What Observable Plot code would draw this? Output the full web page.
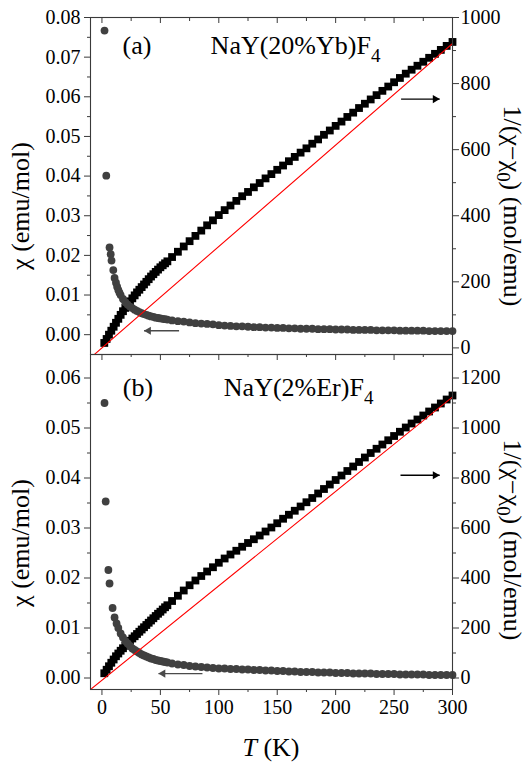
<!DOCTYPE html>
<html><head><meta charset="utf-8">
<script src="https://cdn.jsdelivr.net/npm/d3@7"></script>
<script src="https://cdn.jsdelivr.net/npm/@observablehq/plot@0.6"></script>
<style>
body{margin:0;background:#fff;}
#wrap{position:relative;width:530px;height:764px;overflow:hidden;background:#fff;font-family:"Liberation Serif","Times New Roman",Times,serif;}
#wrap svg{position:absolute;left:0;overflow:visible;}
#wrap svg text{font-family:"Liberation Serif","Times New Roman",Times,serif !important;}
</style></head><body><div id="wrap"></div>
<script>
// ---------- shared temperature grids / ticks ----------
const tDomain = [-9.8, 300];
const tMajor = [0, 50, 100, 150, 200, 250, 300];
const tMinor = [25, 75, 125, 175, 225, 275];
const tHigh = [60, 65, 70, 75, 80, 85, 90, 95, 100, 105, 110, 115, 120, 125, 130, 135, 140, 145, 150, 155, 160, 165, 170, 175, 180, 185, 190, 195, 200, 205, 210, 215, 220, 225, 230, 235, 240, 245, 250, 255, 260, 265, 270, 275, 280, 285, 290, 295, 300];
const tLowSq = [2, 4, 6, 8, 10, 12, 14, 16, 18, 20, 22, 24, 26, 28, 30, 32, 34, 36, 38, 40, 42, 44, 46, 48, 50, 52, 54, 56];

// ---------- panel (a): NaY(20%Yb)F4 ----------
const chiDomainA = [-0.005, 0.08];
const invDomainA = [-20, 1000];
const chiMajorA = [0, 0.01, 0.02, 0.03, 0.04, 0.05, 0.06, 0.07, 0.08];
const chiMinorA = [0.005, 0.015, 0.025, 0.035, 0.045, 0.055, 0.065, 0.075];
const invMajorA = [0, 200, 400, 600, 800, 1000];
const invMinorA = [100, 300, 500, 700, 900];
const chiLowTA = [2.2, 3.7, 6.5, 7.5, 8.2, 9.7, 10.8, 12, 13, 14, 15, 16, 18, 20, 22, 24, 26, 28, 30, 32, 34, 36, 38, 40, 42, 44, 46, 48, 50, 52, 54, 56];
const chiLowA = [0.0767, 0.0401, 0.0220, 0.0203, 0.0187, 0.0163, 0.0143, 0.0131, 0.0121, 0.0113, 0.0106, 0.0100, 0.0090, 0.0082, 0.0076, 0.0071, 0.0067, 0.0063, 0.0060, 0.0057, 0.0054, 0.0052, 0.0050, 0.0048, 0.0046, 0.0045, 0.0043, 0.0042, 0.0041, 0.0040, 0.0039, 0.0038];
const chiHighA = [0.0036, 0.0034, 0.0033, 0.0031, 0.0029, 0.0028, 0.0027, 0.0026, 0.0024, 0.0023, 0.0022, 0.0021, 0.0021, 0.0020, 0.0019, 0.0019, 0.0018, 0.0018, 0.0017, 0.0017, 0.0016, 0.0016, 0.0015, 0.0015, 0.0015, 0.0014, 0.0014, 0.0014, 0.0013, 0.0013, 0.0013, 0.0012, 0.0012, 0.0012, 0.0012, 0.0011, 0.0011, 0.0011, 0.0011, 0.0010, 0.0010, 0.0010, 0.0010, 0.0010, 0.0009, 0.0009, 0.0009, 0.0009, 0.0009];
const invLowA = [15, 27, 40, 52, 64, 76, 88, 100, 111, 121, 131, 141, 150, 159, 168, 176, 184, 192, 200, 208, 216, 223, 230, 237, 244, 250, 256, 262];
const invHighA = [275, 291, 307, 323, 339, 355, 371, 386, 402, 417, 431, 445, 459, 472, 486, 499, 513, 526, 539, 552, 565, 578, 591, 604, 618, 631, 645, 658, 672, 685, 699, 712, 726, 739, 752, 765, 778, 791, 804, 817, 830, 842, 854, 866, 878, 890, 902, 914, 926];
const fitTA = [-6.5, 300];
const fitA = [-20, 921];
const arrowRightA = [256, 289, 753];     // T from, T to, 1/(χ-χ0) level
const arrowLeftA = [66, 36, 0.0010];     // T from, T to, χ level
const labelTextA = ["(a)", "NaY(20%Yb)F_4"];
const labelTA = [17.6, 93];
const labelChiA = [0.0709, 0.0709];

// ---------- panel (b): NaY(2%Er)F4 ----------
const chiDomainB = [-0.0023, 0.0647];
const invDomainB = [-46, 1294];
const chiMajorB = [0, 0.01, 0.02, 0.03, 0.04, 0.05, 0.06];
const chiMinorB = [0.005, 0.015, 0.025, 0.035, 0.045, 0.055];
const invMajorB = [0, 200, 400, 600, 800, 1000, 1200];
const invMinorB = [100, 300, 500, 700, 900, 1100];
const chiLowTB = [2.2, 3.2, 5.5, 6.5, 9.1, 10.8, 12.5, 14, 16, 18, 20, 22, 24, 26, 28, 30, 32, 34, 36, 38, 40, 42, 44, 46, 48, 50, 52, 54, 56];
const chiLowB = [0.0550, 0.0353, 0.0216, 0.0189, 0.0140, 0.0121, 0.0109, 0.0100, 0.0089, 0.0081, 0.0074, 0.0069, 0.0064, 0.0059, 0.0056, 0.0053, 0.0050, 0.0047, 0.0045, 0.0043, 0.0041, 0.0039, 0.0038, 0.0036, 0.0035, 0.0034, 0.0033, 0.0032, 0.0031];
const chiHighB = [0.0029, 0.0027, 0.0026, 0.0024, 0.0023, 0.0022, 0.0021, 0.0020, 0.0019, 0.0019, 0.0018, 0.0018, 0.0017, 0.0017, 0.0016, 0.0016, 0.0015, 0.0015, 0.0014, 0.0014, 0.0013, 0.0013, 0.0012, 0.0012, 0.0012, 0.0011, 0.0011, 0.0011, 0.0010, 0.0010, 0.0010, 0.0009, 0.0009, 0.0009, 0.0009, 0.0008, 0.0008, 0.0008, 0.0008, 0.0007, 0.0007, 0.0007, 0.0007, 0.0007, 0.0006, 0.0006, 0.0006, 0.0006, 0.0006];
const invLowB = [19, 33, 47, 61, 74, 87, 98, 109, 119, 129, 139, 149, 158, 167, 176, 185, 194, 203, 212, 221, 230, 239, 248, 257, 265, 274, 283, 291];
const invHighB = [308, 329, 350, 371, 390, 408, 426, 443, 461, 478, 494, 509, 525, 540, 555, 570, 586, 602, 619, 637, 653, 669, 686, 703, 720, 738, 756, 774, 792, 810, 828, 846, 864, 882, 900, 917, 934, 951, 968, 985, 1002, 1018, 1034, 1050, 1066, 1082, 1098, 1114, 1130];
const fitTB = [-9.8, 300];
const fitB = [-46, 1124];
const arrowRightB = [255.5, 289, 811];
const arrowLeftB = [86, 48.4, 0.00088];
const labelTextB = ["(b)", "NaY(2%Er)F_4"];
const labelTB = [17.9, 104.3];
const labelChiB = [0.0565, 0.0565];

// ---------- drawing ----------
const FONT = '"Liberation Serif","Times New Roman",Times,serif';
const AX = "#3a3a3a";
const SVGNS = "http://www.w3.org/2000/svg";

function makePanel(p) {
  const [y0, y1] = p.chiDomain, [r0, r1] = p.invDomain;
  const r2y = r => y0 + (r - r0) * (y1 - y0) / (r1 - r0);
  const y2r = y => r0 + (y - y0) * (r1 - r0) / (y1 - y0);
  const innerH = p.height - p.marginTop - p.marginBottom;
  const chiT = p.chiLowT.concat(tHigh), chiV = p.chiLow.concat(p.chiHigh);
  const invT = tLowSq.concat(tHigh), invV = p.invLow.concat(p.invHigh);
  const chiData = chiT.map((t, i) => ({t, v: chiV[i]}));
  const invData = invT.map((t, i) => ({t, v: r2y(invV[i])}));
  const fitData = p.fitT.map((t, i) => ({t, v: r2y(p.fit[i])}));
  const aR = [{x1: p.arrowRight[0], x2: p.arrowRight[1], y: r2y(p.arrowRight[2])}];
  const aL = [{x1: p.arrowLeft[0], x2: p.arrowLeft[1], y: p.arrowLeft[2]}];
  const labels = p.labelText.map((s, i) => ({s, t: p.labelT[i], v: p.labelChi[i]}));
  const marks = [
    Plot.dot(invData, {x: "t", y: "v", symbol: "square", r: 4.4, fill: "#000"}),
    Plot.dot(chiData, {x: "t", y: "v", r: 3.9, fill: "#404040"}),
    Plot.line(fitData, {x: "t", y: "v", stroke: "#ff0000", strokeWidth: 1.1, clip: true}),
    Plot.link(aR, {x1: "x1", x2: "x2", y1: "y", y2: "y", stroke: "#000", strokeWidth: 1.4}),
    Plot.dot(aR, {x: "x2", y: "y", symbol: "triangle", r: 3, rotate: 90, fill: "#000", dx: -4.5}),
    Plot.link(aL, {x1: "x1", x2: "x2", y1: "y", y2: "y", stroke: "#4a4a4a", strokeWidth: 1.4}),
    Plot.dot(aL, {x: "x2", y: "y", symbol: "triangle", r: 3, rotate: -90, fill: "#4a4a4a", dx: 4.5}),
    Plot.text(labels, {x: "t", y: "v", text: "s", textAnchor: "start", lineAnchor: "bottom", fontSize: 26, fill: "#000"}),
    Plot.frame({stroke: AX, strokeWidth: 1.1}),
    Plot.axisY(p.chiMajor, {anchor: "left", tickSize: 6, tickPadding: 4, tickFormat: d3.format(".2f"), fontSize: 20, label: null, stroke: AX, fill: "#000"}),
    Plot.axisY(p.chiMinor, {anchor: "left", tickSize: 3, tickFormat: () => "", label: null, stroke: AX}),
    Plot.axisY(p.invMajor.map(r2y), {anchor: "right", tickSize: 6, tickPadding: 2, tickFormat: d => String(Math.round(y2r(d))), fontSize: 20, label: null, stroke: AX, fill: "#000"}),
    Plot.axisY(p.invMinor.map(r2y), {anchor: "right", tickSize: 3, tickFormat: () => "", label: null, stroke: AX}),
    Plot.axisX(tMajor, {anchor: "bottom", tickSize: 6, tickPadding: 4, tickFormat: p.xLabels ? (d => String(d)) : (() => ""), fontSize: 20, label: null, stroke: AX, fill: "#000"}),
    Plot.axisX(tMinor, {anchor: "bottom", tickSize: 3, tickFormat: () => "", label: null, stroke: AX})
  ];
  if (p.topTicks) {
    marks.push(Plot.tickX(tMajor, {x: d => d, insetBottom: innerH - 6, stroke: AX}));
    marks.push(Plot.tickX(tMinor, {x: d => d, insetBottom: innerH - 4, stroke: AX}));
  }
  const svg = Plot.plot({
    width: 530, height: p.height,
    marginTop: p.marginTop, marginBottom: p.marginBottom, marginLeft: 90, marginRight: 78,
    x: {domain: tDomain},
    y: {domain: p.chiDomain},
    style: {fontFamily: FONT, background: "transparent", overflow: "visible", color: "#000"},
    marks
  });
  // subscripts in annotation text ("F_4" -> F with subscript 4)
  svg.querySelectorAll("text").forEach(el => {
    const s = el.textContent;
    if (s.includes("_")) {
      const [a, b] = s.split("_");
      el.textContent = a;
      const ts = document.createElementNS(SVGNS, "tspan");
      ts.setAttribute("dy", "8");
      ts.setAttribute("font-size", "19");
      ts.textContent = b;
      el.appendChild(ts);
    }
  });
  return svg;
}

function addText(svg, x, y, rot, parts, size, anchor = "middle") {
  const t = document.createElementNS(SVGNS, "text");
  t.setAttribute("transform", `translate(${x},${y}) rotate(${rot})`);
  t.setAttribute("text-anchor", anchor);
  t.setAttribute("font-family", FONT);
  t.setAttribute("font-size", size);
  t.setAttribute("fill", "#000");
  let shift = 0;
  for (const [txt, kind] of parts) {
    const ts = document.createElementNS(SVGNS, "tspan");
    ts.textContent = txt;
    if (kind === "sub") { ts.setAttribute("dy", 7); ts.setAttribute("font-size", size * 0.72); shift = 7; }
    else if (shift) { ts.setAttribute("dy", -shift); shift = 0; }
    if (kind === "it") ts.setAttribute("font-style", "italic");
    t.appendChild(ts);
  }
  svg.appendChild(t);
}

const wrap = document.getElementById("wrap");

const svgA = makePanel({
  height: 364, marginTop: 17, marginBottom: 10, xLabels: false, topTicks: true,
  chiDomain: chiDomainA, invDomain: invDomainA,
  chiMajor: chiMajorA, chiMinor: chiMinorA, invMajor: invMajorA, invMinor: invMinorA,
  chiLowT: chiLowTA, chiLow: chiLowA, chiHigh: chiHighA, invLow: invLowA, invHigh: invHighA,
  fitT: fitTA, fit: fitA, arrowRight: arrowRightA, arrowLeft: arrowLeftA,
  labelText: labelTextA, labelT: labelTA, labelChi: labelChiA
});
svgA.style.top = "0px";
wrap.appendChild(svgA);

const svgB = makePanel({
  height: 420, marginTop: 10, marginBottom: 75, xLabels: true, topTicks: false,
  chiDomain: chiDomainB, invDomain: invDomainB,
  chiMajor: chiMajorB, chiMinor: chiMinorB, invMajor: invMajorB, invMinor: invMinorB,
  chiLowT: chiLowTB, chiLow: chiLowB, chiHigh: chiHighB, invLow: invLowB, invHigh: invHighB,
  fitT: fitTB, fit: fitB, arrowRight: arrowRightB, arrowLeft: arrowLeftB,
  labelText: labelTextB, labelT: labelTB, labelChi: labelChiB
});
svgB.style.top = "344px";
wrap.appendChild(svgB);

// axis titles
const leftTitle = [["χ (emu/mol)", ""]];
const rightTitle = [["1/(χ−χ", ""], ["0", "sub"], [") (mol/emu)", ""]];
addText(svgA, 29, 206, -90, leftTitle, 26);
addText(svgA, 504, 206, 90, rightTitle, 26);
addText(svgB, 29, 543 - 344, -90, leftTitle, 26);
addText(svgB, 504, 540 - 344, 90, rightTitle, 26);
addText(svgB, 271, 756 - 344, 0, [["T", "it"], [" (K)", ""]], 26);
</script></body></html>
